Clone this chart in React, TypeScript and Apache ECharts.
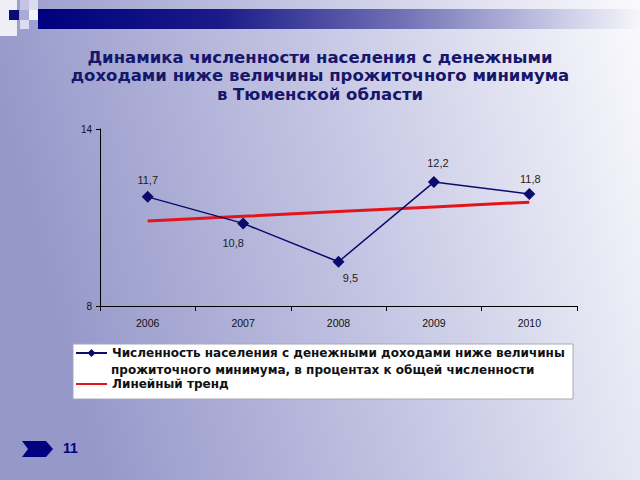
import React, { useEffect, useRef } from "react";
import * as echarts from "echarts";

const years = ["2006", "2007", "2008", "2009", "2010"];
const shareValues = [11.7, 10.8, 9.5, 12.2, 11.8];
const trendValues = [10.88, 11.04, 11.2, 11.36, 11.52];
const yTicks = [8, 14];
const titleLines = [
  "Динамика численности населения с денежными",
  "доходами ниже величины прожиточного минимума",
  "в Тюменской области",
];
const seriesName =
  "Численность населения с денежными доходами ниже величины прожиточного минимума, в процентах к общей численности";
const legendLine1 = "Численность населения с денежными доходами ниже величины";
const legendLine2 = "прожиточного минимума, в процентах к общей численности";
const trendName = "Линейный тренд";
const pageNumber = "11";

const labelOffsets: [number, number][] = [
  [0, -17],
  [-10, 20],
  [12, 16],
  [4, -19],
  [1, -15],
];

const FONT = "Arial, 'Liberation Sans', sans-serif";
const WIDE_FONT = "'DejaVu Sans', Verdana, sans-serif";

export default function App() {
  const ref = useRef<HTMLDivElement>(null);
  useEffect(() => {
    if (!ref.current) return;
    const chart = echarts.init(ref.current, undefined, { renderer: "svg" });
    const navy = "#0b0b6e";
    const legendText = {
      fontSize: 12,
      lineHeight: 12,
      fontWeight: "bold",
      color: "#111",
      fontFamily: WIDE_FONT,
    };
    const legendBase = {
      left: 75,
      padding: 0,
      itemWidth: 31,
      itemHeight: 10,
      textStyle: legendText,
      selectedMode: false,
    };
    const option: any = {
      animation: false,
      backgroundColor: new echarts.graphic.LinearGradient(0, 0.2, 1, 0, [
        { offset: 0, color: "#9698ca" },
        { offset: 0.5, color: "#c6c7e4" },
        { offset: 1, color: "#fafafd" },
      ]),
      textStyle: { fontFamily: FONT },
      grid: { left: 100, right: 63, top: 129, bottom: 174, containLabel: false },
      xAxis: {
        type: "category",
        data: years,
        boundaryGap: true,
        axisLine: { lineStyle: { color: "#000", width: 1 } },
        axisTick: { show: true, length: 5, lineStyle: { color: "#000" } },
        axisLabel: { color: "#111", fontSize: 10.5, margin: 11, fontFamily: FONT },
        splitLine: { show: false },
      },
      yAxis: {
        type: "value",
        min: yTicks[0],
        max: yTicks[1],
        interval: yTicks[1] - yTicks[0],
        axisLine: { show: true, lineStyle: { color: "#000", width: 1 } },
        axisTick: { show: true, length: 4, lineStyle: { color: "#000" } },
        axisLabel: { color: "#111", fontSize: 10, margin: 8, fontFamily: FONT },
        splitLine: { show: false },
      },
      legend: [
        {
          ...legendBase,
          top: 347,
          data: [{ name: seriesName }],
          formatter: () => legendLine1,
        },
        {
          ...legendBase,
          top: 364,
          icon: "none",
          lineStyle: { opacity: 0 },
          itemStyle: { opacity: 0 },
          data: [{ name: seriesName }],
          formatter: () => legendLine2,
        },
        {
          ...legendBase,
          top: 378,
          itemStyle: { opacity: 0 },
          data: [{ name: trendName }],
        },
      ],
      graphic: [
        {
          type: "rect",
          shape: { x: 0, y: 0, width: 17, height: 36 },
          style: { fill: "#eeeef7" },
          silent: true,
        },
        {
          type: "rect",
          shape: { x: 9, y: 10, width: 10, height: 10 },
          style: { fill: "#0a0a78" },
          silent: true,
        },
        {
          type: "rect",
          shape: { x: 20, y: 0, width: 9, height: 10 },
          style: { fill: "#c4c5e4" },
          silent: true,
        },
        {
          type: "rect",
          shape: { x: 29, y: 0, width: 9, height: 10 },
          style: { fill: "#dcdcef" },
          silent: true,
        },
        {
          type: "rect",
          shape: { x: 20, y: 10, width: 9, height: 10 },
          style: { fill: "#a9aad6" },
          silent: true,
        },
        {
          type: "rect",
          shape: { x: 29, y: 10, width: 9, height: 10 },
          style: { fill: "#f2f2fa" },
          silent: true,
        },
        {
          type: "rect",
          shape: { x: 20, y: 20, width: 9, height: 9 },
          style: { fill: "#dcdcef" },
          silent: true,
        },
        {
          type: "rect",
          shape: { x: 29, y: 20, width: 9, height: 9 },
          style: { fill: "#9fa0d2" },
          silent: true,
        },
        {
          type: "rect",
          shape: { x: 38, y: 9, width: 602, height: 20 },
          style: {
            fill: new echarts.graphic.LinearGradient(0, 0, 1, 0, [
              { offset: 0, color: "#00007e" },
              { offset: 0.3, color: "#1a1a88" },
              { offset: 0.6, color: "#6f70b4" },
              { offset: 0.85, color: "#c4c5e3" },
              { offset: 1, color: "#f6f6fb" },
            ]),
          },
          silent: true,
        },
        {
          type: "text",
          x: 320,
          y: 48,
          style: {
            text: titleLines.join("\n"),
            font: `bold 16.5px ${WIDE_FONT}`,
            lineHeight: 18.5,
            textAlign: "center",
            fill: "#16166a",
          },
          silent: true,
        },
        {
          type: "rect",
          z: -1,
          shape: { x: 73, y: 344, width: 500, height: 55 },
          style: { fill: "#ffffff", stroke: "#a8a8b8", lineWidth: 1 },
          silent: true,
        },
        {
          type: "polygon",
          shape: {
            points: [
              [22, 441],
              [46, 441],
              [53, 449],
              [46, 457],
              [22, 457],
              [28, 449],
            ],
          },
          style: { fill: "#000080" },
          silent: true,
        },
        {
          type: "text",
          x: 63,
          y: 441,
          style: { text: pageNumber, font: `bold 14px ${FONT}`, fill: "#000080" },
          silent: true,
        },
      ],
      series: [
        {
          name: seriesName,
          type: "line",
          data: shareValues.map((v, i) => ({
            value: v,
            label: { offset: labelOffsets[i] },
          })),
          symbol: "diamond",
          symbolSize: 12,
          itemStyle: { color: navy },
          lineStyle: { color: navy, width: 1.5 },
          label: {
            show: true,
            position: "inside",
            color: "#222",
            fontSize: 11,
            fontFamily: FONT,
            formatter: (p: any) => String(p.value).replace(".", ","),
          },
          z: 3,
        },
        {
          name: trendName,
          type: "line",
          data: trendValues,
          symbol: "none",
          lineStyle: { color: "#e3151b", width: 3 },
          itemStyle: { color: "#e3151b" },
          z: 2,
        },
      ],
    };
    chart.setOption(option);
    return () => chart.dispose();
  }, []);
  return (
    <div
      ref={ref}
      style={{ position: "absolute", left: 0, top: 0, width: 640, height: 480 }}
    />
  );
}
